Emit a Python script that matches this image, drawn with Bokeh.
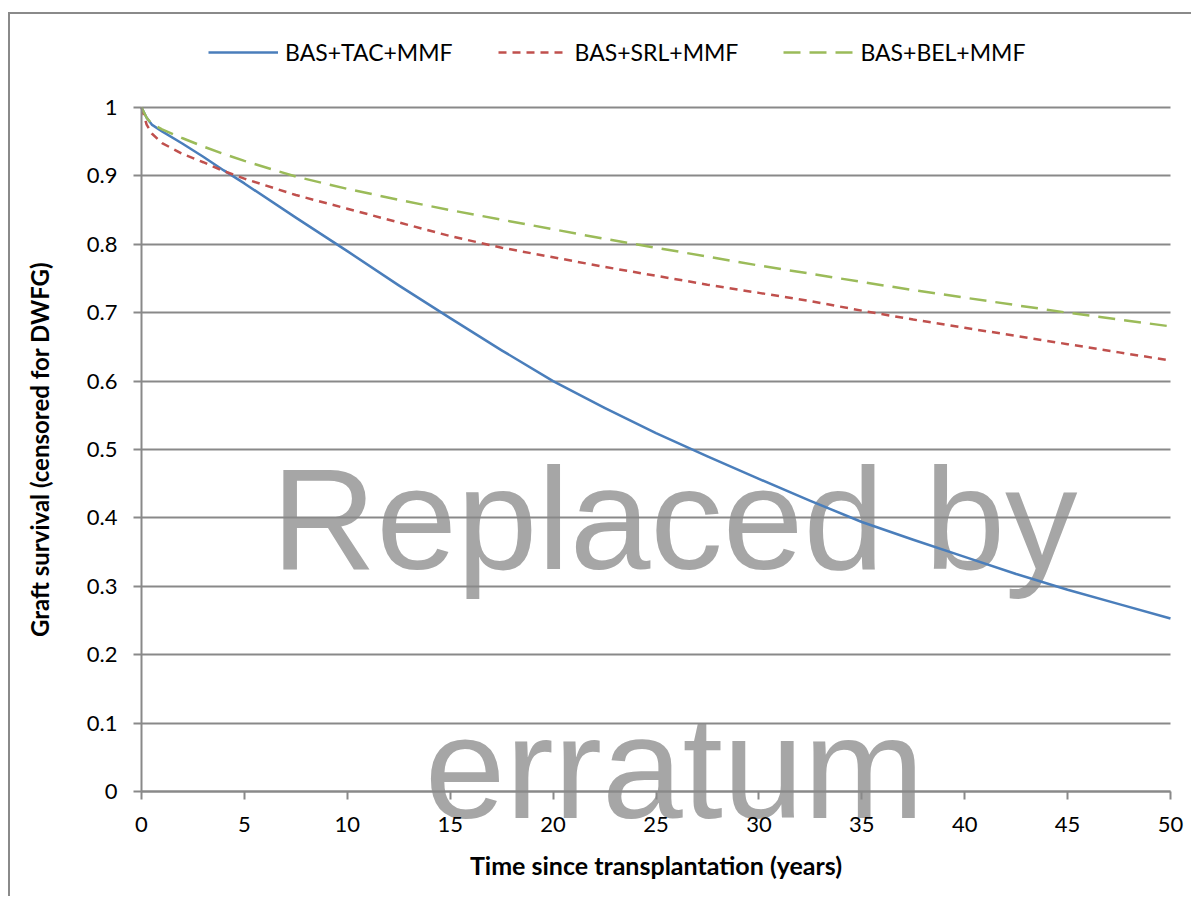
from bokeh.plotting import figure
from bokeh.models import (ColumnDataSource, FixedTicker, NumeralTickFormatter,
                          Legend, LegendItem, Label, Grid)
from bokeh.embed import file_html
from bokeh.resources import INLINE

# ---- data ----
years = [0, 0.25, 0.5, 1, 2, 3, 4, 5, 7.5, 10, 12.5, 15, 17.5, 20, 22.5, 25,
         27.5, 30, 32.5, 35, 37.5, 40, 42.5, 45, 47.5, 50]
tac = [1.0, 0.985, 0.975, 0.965, 0.947, 0.928, 0.908, 0.889, 0.839, 0.79,
       0.74, 0.692, 0.645, 0.600, 0.561, 0.524, 0.49, 0.457, 0.425, 0.394,
       0.368, 0.343, 0.318, 0.295, 0.274, 0.253]
srl = [1.0, 0.975, 0.962, 0.948, 0.932, 0.92, 0.907, 0.896, 0.872, 0.852,
       0.832, 0.812, 0.795, 0.781, 0.767, 0.754, 0.741, 0.729, 0.717, 0.703,
       0.69, 0.678, 0.666, 0.654, 0.642, 0.63]
bel = [1.0, 0.985, 0.976, 0.968, 0.955, 0.943, 0.932, 0.922, 0.899, 0.881,
       0.865, 0.85, 0.836, 0.822, 0.808, 0.795, 0.782, 0.769, 0.757, 0.745,
       0.733, 0.722, 0.711, 0.70, 0.69, 0.68]
series_names = ["BAS+TAC+MMF", "BAS+SRL+MMF", "BAS+BEL+MMF"]
x_ticks = [0, 5, 10, 15, 20, 25, 30, 35, 40, 45, 50]
y_ticks = [0, 0.1, 0.2, 0.3, 0.4, 0.5, 0.6, 0.7, 0.8, 0.9, 1.0]
watermark = ["Replaced by", "erratum"]

FONT = "Lato"
GRID = "#898989"

# canvas is 1183 x 884; the plotting frame covers the whole canvas and the
# axes sit at fixed data locations, so nothing outside the axes gets clipped
W, H = 1183, 884
PX_L, PX_R, PX_T, PX_B = 131, 23, 93, 107   # axis box offsets inside the canvas
x0, x1 = x_ticks[0], x_ticks[-1]
y0, y1 = y_ticks[0], y_ticks[-1]
sx = (x1 - x0) / (W - PX_L - PX_R)
sy = (y1 - y0) / (H - PX_T - PX_B)
xr = (x0 - PX_L * sx, x1 + PX_R * sx)
yr = (y0 - PX_B * sy, y1 + PX_T * sy)

p = figure(width=W, height=H, output_backend="svg", toolbar_location=None,
           x_range=xr, y_range=yr, min_border=0,
           min_border_left=0, min_border_right=0,
           min_border_top=0, min_border_bottom=0)
p.styles = {"border-left": "2px solid #8a8a8a", "border-top": "2px solid #8a8a8a",
            "margin-top": "12px", "margin-left": "8px"}
p.outline_line_color = None
p.background_fill_color = "white"
p.border_fill_color = "white"

# watermark (drawn beneath grid and axes)
for txt, yy in ((watermark[0], 0.399), (watermark[1], 0.035)):
    p.add_layout(Label(x=25.9, y=yy, text=txt, text_align="center",
                       text_baseline="alphabetic", text_font="Liberation Sans",
                       text_font_size="145px", text_color="#a6a6a6",
                       level="image"))

src = ColumnDataSource(dict(t=years, tac=tac, srl=srl, bel=bel))
r1 = p.line("t", "tac", source=src, line_color="#4a7ebb", line_width=2.5,
            line_join="round")
r2 = p.line("t", "srl", source=src, line_color="#c0504d", line_width=2.5,
            line_dash="8 6")
r3 = p.line("t", "bel", source=src, line_color="#9bbb59", line_width=2.5,
            line_dash="17 9")

# axes
p.xaxis.ticker = FixedTicker(ticks=x_ticks)
p.yaxis.ticker = FixedTicker(ticks=y_ticks)
p.yaxis.formatter = NumeralTickFormatter(format="0.[0]")
p.xaxis.fixed_location = y0
p.yaxis.fixed_location = x0
p.xaxis.bounds = (x0, x1)
p.yaxis.bounds = (y0, y1)
for ax in (p.xaxis[0], p.yaxis[0]):
    ax.axis_line_color = GRID
    ax.axis_line_width = 2
    ax.major_tick_line_color = GRID
    ax.major_tick_line_width = 2
    ax.major_tick_out = 8
    ax.major_tick_in = 0
    ax.minor_tick_line_color = None
    ax.major_label_text_font = FONT
    ax.major_label_text_font_size = "22px"
    ax.major_label_text_color = "black"
    ax.axis_label_text_font = FONT
    ax.axis_label_text_font_style = "bold"
    ax.axis_label_text_color = "black"
p.xaxis.axis_label = "Time since transplantation (years)"
p.yaxis.axis_label = "Graft survival (censored for DWFG)"
p.xaxis.axis_label_text_font_size = "25px"
p.yaxis.axis_label_text_font_size = "24px"
p.xaxis.major_label_standoff = 17
p.yaxis.major_label_standoff = 16
p.xaxis.axis_label_standoff = 15
p.yaxis.axis_label_standoff = 30

p.xgrid.grid_line_color = None
yg = p.ygrid[0]
yg.ticker = FixedTicker(ticks=y_ticks)
yg.bounds = (y0, y1)
if "cross_bounds" in Grid.properties():
    yg.grid_line_color = GRID
    yg.grid_line_width = 2
    yg.cross_bounds = (x0, x1)
else:
    yg.grid_line_color = None
    p.segment(x0=[x0] * len(y_ticks), x1=[x1] * len(y_ticks), y0=y_ticks,
              y1=y_ticks, line_color=GRID, line_width=2, level="underlay")

legend = Legend(items=[LegendItem(label=series_names[0], renderers=[r1]),
                       LegendItem(label=series_names[1], renderers=[r2]),
                       LegendItem(label=series_names[2], renderers=[r3])],
                orientation="horizontal", location=(198, 832),
                glyph_width=70, glyph_height=28, label_standoff=7, spacing=45,
                padding=0, margin=0, border_line_color=None,
                background_fill_alpha=0,
                label_text_font=FONT, label_text_font_size="23px",
                label_text_color="black")
p.add_layout(legend, "center")

open("out.html", "w").write(file_html(p, INLINE))
